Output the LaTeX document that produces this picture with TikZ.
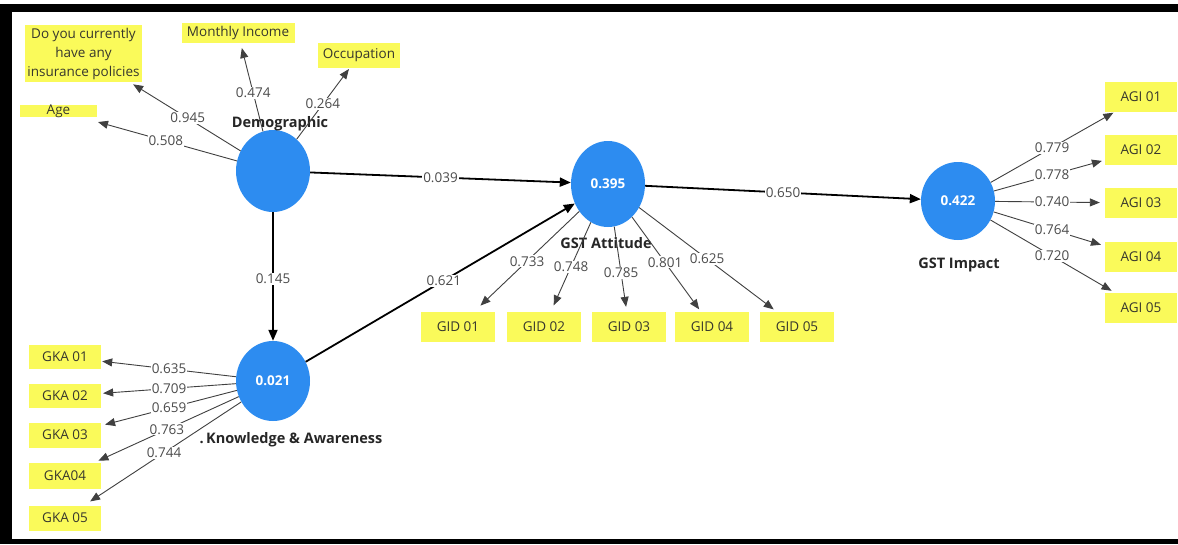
\documentclass[tikz,border=0pt]{standalone}
\usepackage{fontspec}
\setmainfont{Open Sans}
\usetikzlibrary{arrows.meta,shapes.geometric}
\definecolor{lvblue}{RGB}{45,140,240}
\definecolor{indyellow}{RGB}{250,250,90}
\definecolor{lblgray}{RGB}{75,75,75}
\definecolor{boxtxt}{RGB}{55,55,45}
\begin{document}
\begin{tikzpicture}[x=1pt,y=-1pt,
  lv/.style={ellipse, fill=lvblue, minimum width=74pt, minimum height=82pt, inner sep=0pt, text=white, font=\bfseries\fontsize{13.5}{15}\selectfont},
  indbox/.style={rectangle, fill=indyellow, minimum width=72pt, minimum height=28pt, inner sep=0pt, text=boxtxt, font=\fontsize{13.5}{19}\selectfont},
  lvname/.style={font=\bfseries\fontsize{14.5}{17}\selectfont, text=black!85},
  wt/.style={fill=white, inner sep=1pt, text=lblgray, font=\fontsize{13.5}{15}\selectfont},
  load/.style={draw=black!75, line width=0.9pt, -{Triangle[length=10pt,width=8pt]}},
  sarrow/.style={draw=black, line width=1.8pt, -{Triangle[length=11pt,width=9pt]}},
]
\useasboundingbox (0,0) rectangle (1178,544);
\fill[white] (0,0) rectangle (1178,544);
% frame
\fill[black] (0,4) rectangle (1178,12);
\fill[black] (0,4) rectangle (12,544);
\fill[black] (0,539) rectangle (1178,544);

% latent variables
\node[lv] (dem) at (273,171) {};
\node[lv, minimum height=80pt] (know) at (273,381) {0.021};
\node[lv, minimum height=86pt] (att) at (608,184) {0.395};
\node[lv, minimum height=78pt] (imp) at (958,201) {0.422};

\node[lvname] (demname) at (280,124) {Demographic};
\node[lvname] (knowname) at (291,440) {.\,Knowledge \& Awareness};
\node[lvname] (attname) at (606,243) {GST Attitude};
\node[lvname] (impname) at (959,265) {GST Impact};

% indicators: Demographic
\node[indbox, minimum width=117pt, minimum height=57pt, align=center] (ins) at (83.5,53.5) {Do you currently\\have any\\insurance policies};
\node[indbox, minimum width=113pt, minimum height=20pt] (inc) at (238,33) {Monthly Income};
\node[indbox, minimum width=82pt, minimum height=25pt] (occ) at (359,55.5) {Occupation};
\node[indbox, minimum width=77pt, text height=9pt, text depth=3pt, minimum height=12pt] (age) at (58.5,111) {Age};

% indicators: Knowledge
\node[indbox, minimum height=24pt] (gka1) at (65,357) {GKA 01};
\node[indbox, minimum height=24pt] (gka2) at (65,396) {GKA 02};
\node[indbox, minimum height=25pt] (gka3) at (65,435) {GKA 03};
\node[indbox, minimum height=26pt] (gka4) at (65,476) {GKA04};
\node[indbox, minimum height=25pt] (gka5) at (65,518) {GKA 05};

% indicators: Attitude
\node[indbox, minimum width=74pt, minimum height=30pt] (gid1) at (458,327) {GID 01};
\node[indbox, minimum width=74pt, minimum height=30pt] (gid2) at (544,327) {GID 02};
\node[indbox, minimum width=74pt, minimum height=30pt] (gid3) at (629,327) {GID 03};
\node[indbox, minimum width=74pt, minimum height=30pt] (gid4) at (712,327) {GID 04};
\node[indbox, minimum width=74pt, minimum height=30pt] (gid5) at (797,327) {GID 05};

% indicators: Impact
\node[indbox, minimum height=30pt] (agi1) at (1141,97) {AGI 01};
\node[indbox, minimum height=30pt] (agi2) at (1141,150) {AGI 02};
\node[indbox, minimum height=30pt] (agi3) at (1141,203) {AGI 03};
\node[indbox, minimum height=30pt] (agi4) at (1141,257) {AGI 04};
\node[indbox, minimum height=30pt] (agi5) at (1141,308) {AGI 05};

% loadings
\draw[load, shorten >=18pt] (dem) -- (age);
\draw[load, shorten >=4pt] (dem) -- (ins);
\draw[load, shorten >=5pt] (dem) -- (inc);
\draw[load, shorten >=1pt] (dem) -- (occ);
\path (dem.center) -- node[wt, pos=0.5] {0.508} (age.center);
\path (dem.center) -- node[wt, pos=0.45] {0.945} (ins.center);
\path (dem.center) -- node[wt, pos=0.565] {0.474} (inc.center);
\path (dem.center) -- node[wt, pos=0.58] {0.264} (occ.center);

\draw[load, shorten >=1pt] (know) -- (gka1);
\draw[load, shorten >=2pt] (know) -- (gka2);
\draw[load, shorten >=4pt] (know) -- (gka3);
\draw[load, shorten >=5pt] (know) -- (gka4);
\draw[load, shorten >=7pt] (know) -- (gka5);
\path (know.center) -- node[wt, pos=0.5] {0.635} (gka1.center);
\path (know.center) -- node[wt, pos=0.5] {0.709} (gka2.center);
\path (know.center) -- node[wt, pos=0.5] {0.659} (gka3.center);
\path (know.center) -- node[wt, pos=0.51] {0.763} (gka4.center);
\path (know.center) -- node[wt, pos=0.524] {0.744} (gka5.center);

\draw[load, shorten >=9pt] (att) -- (gid1);
\draw[load, shorten >=7pt] (att) -- (gid2);
\draw[load, shorten >=5pt] (att) -- (gid3);
\draw[load, shorten >=3pt] (att) -- (gid4);
\draw[load, shorten >=4pt] (att) -- (gid5);
\path (att.center) -- node[wt, pos=0.54] {0.733} (gid1.center);
\path (att.center) -- node[wt, pos=0.578] {0.748} (gid2.center);
\path (att.center) -- node[wt, pos=0.62] {0.785} (gid3.center);
\path (att.center) -- node[wt, pos=0.548] {0.801} (gid4.center);
\path (att.center) -- node[wt, pos=0.524] {0.625} (gid5.center);

\draw[load, shorten >=1pt] (imp) -- (agi1);
\draw[load, shorten >=3pt] (imp) -- (agi2);
\draw[load, shorten >=5pt] (imp) -- (agi3);
\draw[load, shorten >=4pt] (imp) -- (agi4);
\draw[load, shorten >=4pt] (imp) -- (agi5);
\path (imp.center) -- node[wt, pos=0.514] {0.779} (agi1.center);
\path (imp.center) -- node[wt, pos=0.514] {0.778} (agi2.center);
\path (imp.center) -- node[wt, pos=0.514] {0.740} (agi3.center);
\path (imp.center) -- node[wt, pos=0.514] {0.764} (agi4.center);
\path (imp.center) -- node[wt, pos=0.514] {0.720} (agi5.center);

% structural paths
\draw[sarrow] (dem) -- (know);
\draw[sarrow] (dem) -- (att);
\draw[sarrow] (know) -- (att);
\draw[sarrow] (att) -- (imp);
\path (dem.center) -- node[wt, pos=0.514] {0.145} (know.center);
\path (dem.center) -- node[wt, pos=0.5] {0.039} (att.center);
\path (know.center) -- node[wt, pos=0.51] {0.621} (att.center);
\path (att.center) -- node[wt, pos=0.5] {0.650} (imp.center);
\end{tikzpicture}
\end{document}
